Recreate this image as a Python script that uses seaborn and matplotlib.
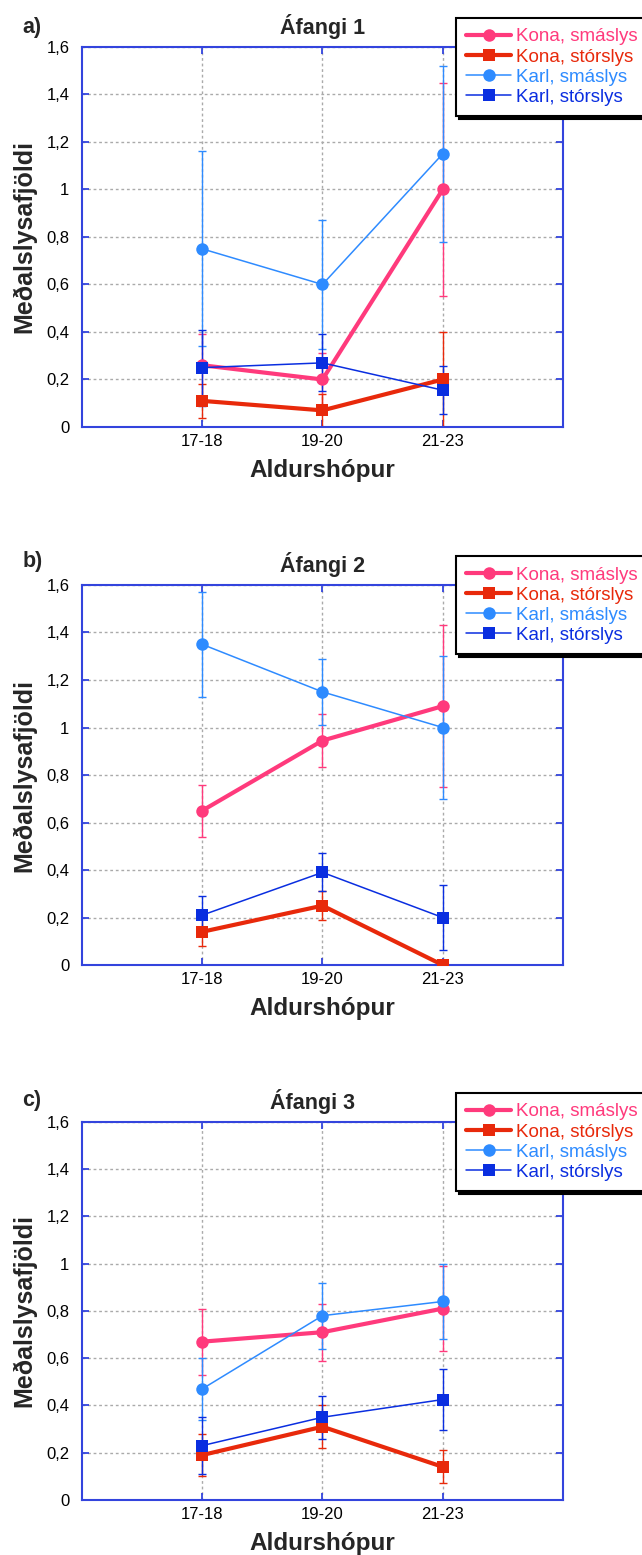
import matplotlib
matplotlib.use('Agg')
import matplotlib.pyplot as plt
import pandas as pd
import seaborn as sns

age_groups = ['17-18', '19-20', '21-23']
series = ['Kona, smáslys', 'Kona, stórslys', 'Karl, smáslys', 'Karl, stórslys']
panel_titles = ['Áfangi 1', 'Áfangi 2', 'Áfangi 3']
panel_letters = ['a)', 'b)', 'c)']
y_ticks = [0, 0.2, 0.4, 0.6, 0.8, 1.0, 1.2, 1.4, 1.6]
y_tick_labels = ['0', '0,2', '0,4', '0,6', '0,8', '1', '1,2', '1,4', '1,6']

# mean per series (rows in the order of `series`), columns = age groups
mean_1 = [[0.26, 0.20, 1.00],
          [0.11, 0.07, 0.20],
          [0.75, 0.60, 1.15],
          [0.25, 0.27, 0.155]]
err_1 = [[0.13, 0.11, 0.45],
         [0.07, 0.07, 0.20],
         [0.41, 0.27, 0.37],
         [0.16, 0.12, 0.10]]

mean_2 = [[0.65, 0.945, 1.09],
          [0.14, 0.25, 0.0],
          [1.35, 1.15, 1.0],
          [0.21, 0.39, 0.20]]
err_2 = [[0.11, 0.11, 0.34],
         [0.06, 0.06, 0.0],
         [0.22, 0.14, 0.30],
         [0.08, 0.08, 0.135]]

mean_3 = [[0.67, 0.71, 0.81],
          [0.19, 0.31, 0.14],
          [0.47, 0.78, 0.84],
          [0.23, 0.35, 0.425]]
err_3 = [[0.14, 0.12, 0.18],
         [0.09, 0.09, 0.07],
         [0.13, 0.14, 0.16],
         [0.12, 0.09, 0.13]]

colors = ['#ff3a7c', '#e8290b', '#2e8bff', '#0a2ee0']
widths = [3.0, 3.0, 1.1, 1.1]
markers = ['o', 's', 'o', 's']
frame_col = '#3344dd'

sns.set_theme(style='white')
plt.rcParams['font.family'] = ['Liberation Sans', 'DejaVu Sans']

fig = plt.figure(figsize=(6.42, 15.55), dpi=100)

ax_rects = [[0.1277, 0.7254, 0.7492, 0.2444],
            [0.1277, 0.3794, 0.7492, 0.2444],
            [0.1277, 0.0354, 0.7492, 0.2431]]
legend_tops = [0.9884, 0.6424, 0.2971]
letter_y = [0.9826, 0.6386, 0.2926]
title_x = [0.5, 0.5, 0.48]

all_means = [mean_1, mean_2, mean_3]
all_errs = [err_1, err_2, err_3]

for p in range(3):
    ax = fig.add_axes(ax_rects[p])
    for i, name in enumerate(series):
        df = pd.DataFrame({'age': age_groups,
                           'mean': all_means[p][i],
                           'err': all_errs[p][i]})
        ax.errorbar(df['age'], df['mean'], yerr=df['err'], fmt='none',
                    ecolor=colors[i], elinewidth=1, capsize=3, capthick=1,
                    zorder=2)
        sns.lineplot(data=df, x='age', y='mean', ax=ax, color=colors[i],
                     linewidth=widths[i], marker=markers[i], markersize=9,
                     markeredgewidth=0, label=name, sort=False, zorder=3)

    ax.set_xlim(-1, 3)
    ax.set_ylim(0, 1.6)
    ax.set_yticks(y_ticks)
    ax.set_yticklabels(y_tick_labels)
    ax.grid(True, color='#aaaaaa', linestyle=(0, (2, 2)), linewidth=1)
    for s in ax.spines.values():
        s.set_color(frame_col)
        s.set_linewidth(1.5)
        s.set_visible(True)
    ax.tick_params(direction='in', length=5, width=1.3, color=frame_col,
                   top=True, right=True, left=True, bottom=True,
                   labelsize=12, labelcolor='black')
    ax.tick_params(axis='y', pad=9)
    ax.tick_params(axis='x', pad=5)

    ax.set_title(panel_titles[p], fontsize=15.5, fontweight='bold', pad=9,
                 x=title_x[p])
    ax.set_xlabel('Aldurshópur', fontsize=17.5, fontweight='bold', labelpad=7)
    ax.set_ylabel('Meðalslysafjöldi', fontsize=18, fontweight='bold', labelpad=7)
    fig.text(0.035, letter_y[p], panel_letters[p], fontsize=15.5,
             fontweight='bold', va='center', ha='left')

    handles, labels = ax.get_legend_handles_labels()
    leg = ax.legend(handles, labels, loc='upper left',
                    bbox_to_anchor=(0.7103, legend_tops[p]),
                    bbox_transform=fig.transFigure, fontsize=13.5,
                    handlelength=2.4, handletextpad=0.25, labelspacing=0.16,
                    borderpad=0.55, borderaxespad=0, fancybox=False,
                    framealpha=1, edgecolor='black', labelcolor='linecolor',
                    shadow={'color': 'black', 'alpha': 1})
    leg.get_frame().set_linewidth(1.5)
    leg.set_zorder(10)

fig.savefig('out.png', dpi=100)
